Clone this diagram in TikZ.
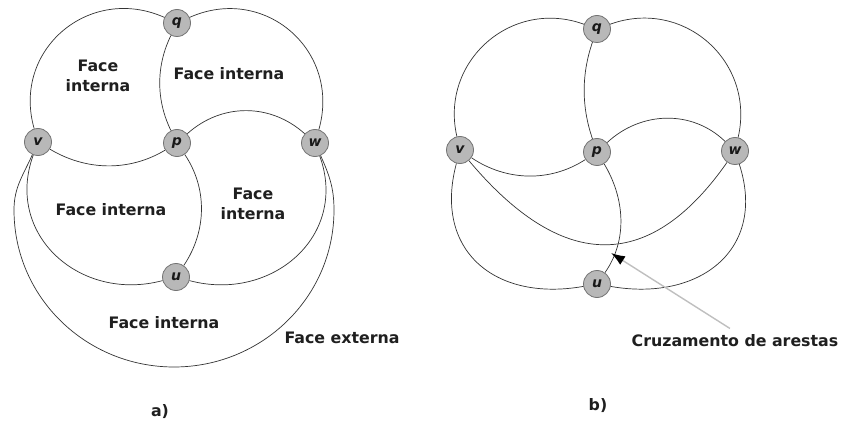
\documentclass[tikz,border=0pt]{standalone}
\usepackage{fontspec}
\setmainfont{DejaVu Sans}
\usetikzlibrary{arrows.meta}

\begin{document}
\begin{tikzpicture}[x=1pt,y=1pt,
  vertex/.style={circle, draw=black!55, fill=black!28, line width=0.8pt,
    minimum size=27pt, inner sep=0pt, text=black!90,
    font=\fontsize{14}{14}\selectfont\bfseries\itshape},
  edge/.style={draw=black!80, line width=0.7pt},
  facelabel/.style={font=\fontsize{15.8}{19.5}\selectfont\bfseries,
    text=black!88, align=center, inner sep=3pt},
  pointer/.style={draw=black!25, line width=1.4pt, shorten <=6pt,
    -{Latex[length=14pt,width=10pt,color=black]}},
]
\useasboundingbox (0,0) rectangle (849,-425);

% ---------- graph a): planar drawing ----------
\node[vertex] (qa) at (177,-23)  {q};
\node[vertex] (va) at (38,-142)  {v};
\node[vertex] (pa) at (177,-143) {p};
\node[vertex] (wa) at (315,-143) {w};
\node[vertex] (ua) at (176,-277) {u};

\coordinate (oLa) at (14,-210);
\coordinate (oBa) at (174,-367);
\coordinate (oRa) at (334,-210);

\draw[edge] (va) to[out=106,in=156,distance=82pt] (qa);
\draw[edge] (va) to[out=329,in=211,distance=42pt] (pa);
\draw[edge] (qa) to[out=244,in=116,distance=34pt] (pa);
\draw[edge] (qa) to[out=24,in=74,distance=82pt] (wa);
\draw[edge] (pa) to[out=42,in=138,distance=46pt] (wa);
\draw[edge] (va) to[out=250,in=195,distance=85pt] (ua);
\draw[edge] (pa) to[out=304,in=56,distance=41pt] (ua);
\draw[edge] (ua) to[out=345,in=290,distance=85pt] (wa);
\draw[edge] (va) to[out=246,in=90] (oLa) to[out=270,in=180] (oBa)
  to[out=0,in=270] (oRa) to[out=90,in=294] (wa);

\node[facelabel] (fa1) at (98,-76)   {Face\\interna};
\node[facelabel] (fa2) at (229,-74)  {Face interna};
\node[facelabel] (fa3) at (111,-210) {Face interna};
\node[facelabel] (fa4) at (253,-204) {Face\\interna};
\node[facelabel] (fa5) at (164,-323) {Face interna};
\node[facelabel] (fext) at (342,-338) {Face externa};
\node[facelabel] (capa) at (160,-412) {a)};

% ---------- graph b): drawing with a crossing ----------
\node[vertex] (qb) at (597,-29)  {q};
\node[vertex] (vb) at (460,-150) {v};
\node[vertex] (pb) at (597,-152) {p};
\node[vertex] (wb) at (735,-151) {w};
\node[vertex] (ub) at (597,-284) {u};

\draw[edge] (vb) to[out=103,in=160,distance=77pt] (qb);
\draw[edge] (vb) to[out=326,in=213,distance=42pt] (pb);
\draw[edge] (qb) to[out=251,in=109,distance=34pt] (pb);
\draw[edge] (qb) to[out=20,in=77,distance=78pt] (wb);
\draw[edge] (pb) to[out=43,in=136,distance=46pt] (wb);
\draw[edge] (vb) to[out=255,in=190,distance=90pt] (ub);
\draw[edge] (pb) to[out=301,in=55,distance=40pt] (ub);
\draw[edge] (ub) to[out=350,in=288,distance=90pt] (wb);
\draw[edge] (vb) to[out=310,in=235,distance=140pt] (wb);

\coordinate (cross) at (611,-253);
\node[facelabel] (cruz) at (735,-341) {Cruzamento de arestas};
\draw[pointer] (cruz.north) -- (cross);

\node[facelabel] (capb) at (598,-406) {b)};
\end{tikzpicture}
\end{document}
